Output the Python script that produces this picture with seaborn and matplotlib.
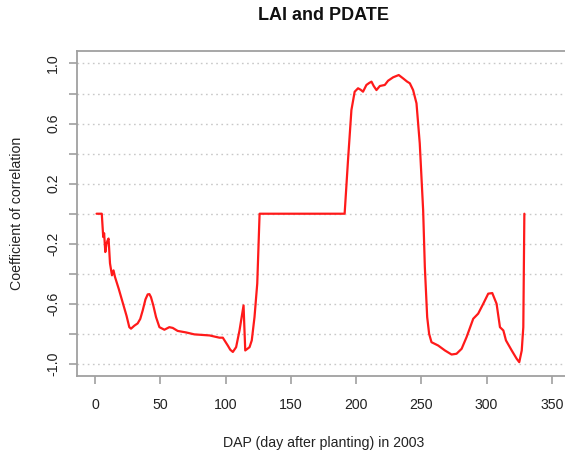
import numpy as np
import pandas as pd
import seaborn as sns
import matplotlib
matplotlib.use("Agg")
import matplotlib.pyplot as plt

# valores (DAP x coeficiente de correlação)
dap = [1, 3, 5, 6.1, 6.8, 7.7, 8.6, 9.5, 10.2, 11.3, 12.8, 14, 15.1, 18, 21, 24, 26.1,
       27.4, 30, 32.5, 34.5, 36.4, 38.5, 40.2, 41.5, 42.7, 44.5, 46.6, 49.2, 53, 56.8,
       59.4, 63.2, 69.6, 76, 87.6, 95.2, 97.8, 101.6, 103.5, 105.5, 108, 110.6, 113.7,
       115, 118.3, 120, 122.1, 124.2, 126, 150, 175, 191.2, 193.8, 196.4, 198.9, 201.5,
       203.5, 205.3, 207.9, 210, 211.8, 213.5, 215.6, 218.2, 222, 224.5, 228.4, 232.7,
       236, 239, 241.2, 243.7, 246.3, 248.8, 251.4, 252.7, 254.5, 256, 257.8, 262.9,
       268.1, 273.2, 277, 280.9, 284.7, 289.8, 293.6, 297.5, 301.3, 304.4, 307.7,
       310.3, 312.9, 314.9, 319.3, 323.1, 325.1, 327, 328.2, 329]
corr = [0, 0, 0, -0.155, -0.13, -0.255, -0.2, -0.177, -0.165, -0.33, -0.41, -0.377,
        -0.42, -0.5, -0.59, -0.68, -0.755, -0.765, -0.745, -0.73, -0.70, -0.643, -0.57,
        -0.537, -0.535, -0.555, -0.61, -0.688, -0.755, -0.772, -0.755, -0.76, -0.78,
        -0.79, -0.803, -0.81, -0.825, -0.825, -0.877, -0.905, -0.92, -0.888, -0.777,
        -0.61, -0.91, -0.888, -0.843, -0.688, -0.465, 0, 0, 0, 0, 0.357, 0.69, 0.812,
        0.835, 0.825, 0.812, 0.857, 0.87, 0.879, 0.85, 0.823, 0.85, 0.857, 0.885, 0.908,
        0.923, 0.901, 0.88, 0.868, 0.823, 0.735, 0.468, 0.023, -0.355, -0.688, -0.8,
        -0.855, -0.877, -0.91, -0.937, -0.932, -0.899, -0.821, -0.699, -0.665, -0.599,
        -0.532, -0.528, -0.599, -0.755, -0.777, -0.843, -0.91, -0.965, -0.988, -0.91,
        -0.755, 0]

df = pd.DataFrame({"DAP": dap, "corr": corr})

sns.set_style("white")
plt.rcParams["font.family"] = ["Liberation Sans", "DejaVu Sans"]

fig = plt.figure(figsize=(5.65, 4.54), dpi=100)
ax = fig.add_axes([77 / 565, 78 / 454, 493 / 565, 325 / 454])

# grade pontilhada horizontal
for g in np.arange(-1.0, 1.01, 0.2):
    ax.axhline(g, color="#c8c8c8", linestyle=(0, (1.2, 2.5)), linewidth=1.0, zorder=0)

sns.lineplot(data=df, x="DAP", y="corr", color="#ff1a1a", linewidth=1.6, ax=ax,
             estimator=None, sort=False)

ax.set_xlim(-14, 364)
ax.set_ylim(-1.08, 1.083)
ax.set_xticks(np.arange(0, 351, 50))
yt = np.round(np.arange(-1.0, 1.01, 0.2), 1)
ax.set_yticks(yt)
ax.set_yticklabels([f"{v:.1f}" if i % 2 == 0 else "" for i, v in enumerate(yt)],
                   rotation=90, va="center")
ax.set_xlabel("")
ax.set_ylabel("")

for s in ax.spines.values():
    s.set_color("#a0a0a0")
    s.set_linewidth(1.3)
ax.spines["right"].set_visible(False)
ax.tick_params(axis="both", direction="out", length=6, width=1.2, color="#a0a0a0",
               labelsize=10.2, labelcolor="#222222", bottom=True, left=True)
ax.tick_params(axis="y", pad=6)
ax.tick_params(axis="x", pad=10)

fig.text(323.5 / 565, 1 - 16 / 454, "LAI and PDATE", ha="center", va="center",
         fontsize=13, fontweight="bold", color="#111111")
fig.text(323.5 / 565, 1 - 443 / 454, "DAP (day after planting) in 2003", ha="center",
         va="center", fontsize=10.2, color="#222222")
fig.text(17 / 565, 1 - 213 / 454, "Coefficient of correlation", ha="center",
         va="center", rotation=90, fontsize=10.2, color="#222222")

plt.savefig("out.png", dpi=100)
plt.close()
